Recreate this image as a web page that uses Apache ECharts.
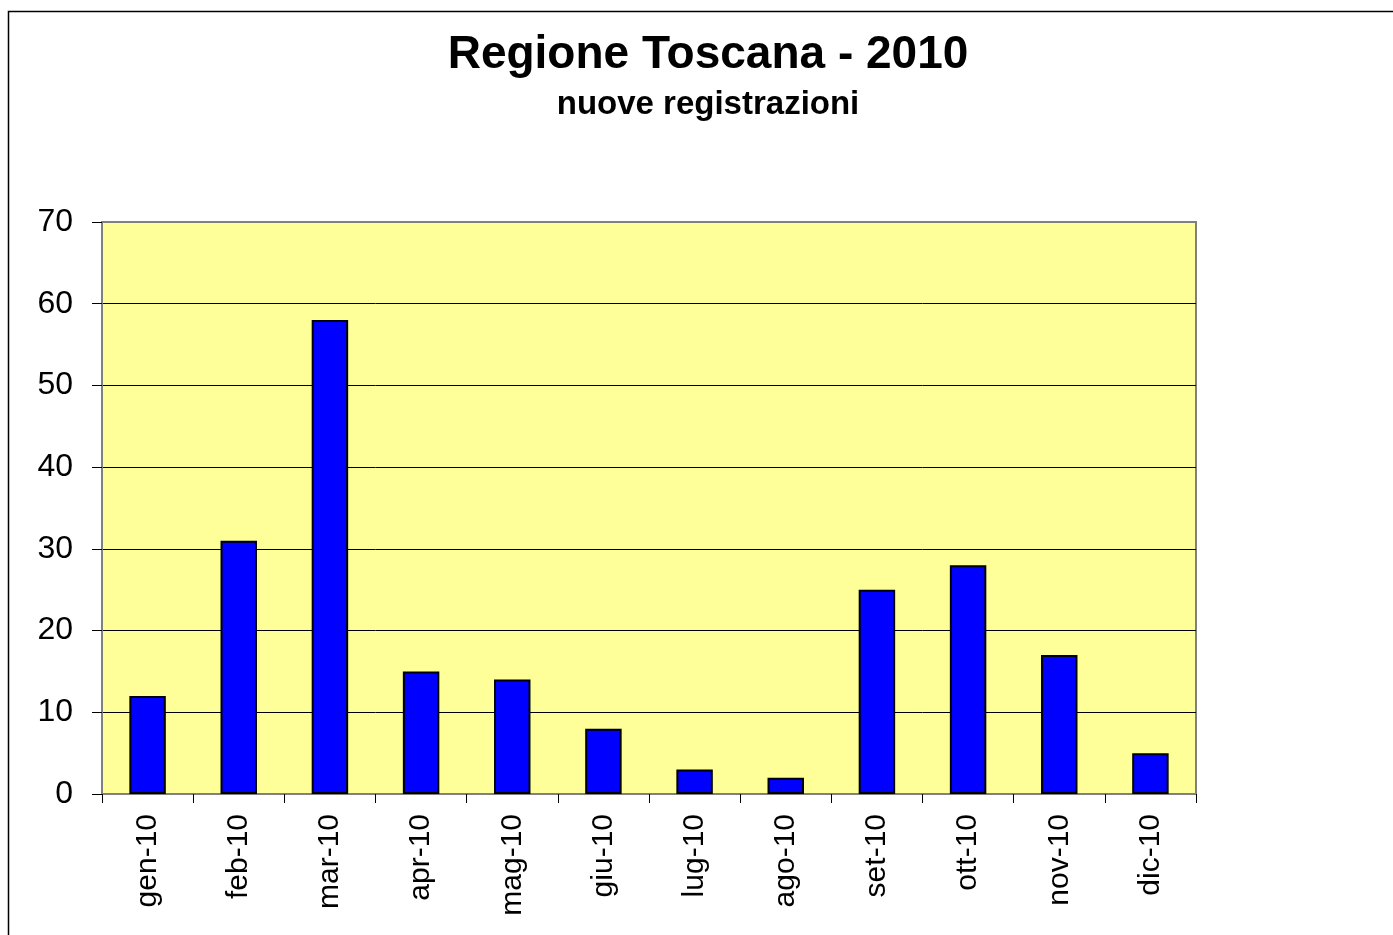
<!DOCTYPE html>
<html><head><meta charset="utf-8">
<script src="https://cdn.jsdelivr.net/npm/echarts@6/dist/echarts.min.js"></script>
<style>html,body{margin:0;padding:0;background:#fff}#c{width:1393px;height:935px}</style>
</head><body><div id="c"></div>
<script>
const categories = ['gen-10','feb-10','mar-10','apr-10','mag-10','giu-10','lug-10','ago-10','set-10','ott-10','nov-10','dic-10'];
const values = [12,31,58,15,14,8,3,2,25,28,17,5];
const titleText = 'Regione Toscana - 2010';
const subtitleText = 'nuove registrazioni';

const FF = 'Liberation Sans, Arial, sans-serif';
const chart = echarts.init(document.getElementById('c'), null, {renderer:'canvas'});
chart.setOption({
  animation:false,
  textStyle:{fontFamily:FF},
  title:[
    {text:titleText, left:708, textAlign:'center', top:32, padding:0,
     textStyle:{fontSize:46, fontWeight:'bold', color:'#000', fontFamily:FF}},
    {text:subtitleText, left:708, textAlign:'center', top:88, padding:0,
     textStyle:{fontSize:33, fontWeight:'bold', color:'#000', fontFamily:FF}}
  ],
  graphic:[{type:'rect', shape:{x:8.5,y:11.5,width:1500,height:1000}, style:{fill:null, stroke:'#000', lineWidth:1.5}, silent:true, z:-1}],
  grid:{left:102, top:222, width:1094, height:572, show:true, backgroundColor:'#FFFF99', borderColor:'#808080', borderWidth:2},
  xAxis:{
    type:'category', data:categories,
    axisLine:{lineStyle:{color:'#808080', width:2}},
    axisTick:{show:true, length:9, lineStyle:{color:'#000'}},
    axisLabel:{rotate:90, margin:20, fontSize:30, color:'#000'}
  },
  yAxis:{
    type:'value', min:0, max:70, interval:10,
    axisLine:{show:true, lineStyle:{color:'#808080', width:2}},
    axisTick:{show:true, length:10, lineStyle:{color:'#000'}},
    axisLabel:{margin:29, fontSize:32, color:'#000'},
    splitLine:{show:true, showMaxLine:false, showMinLine:false, lineStyle:{color:'#000', width:1}}
  },
  series:[{type:'bar', data:values, barWidth:'40%',
    itemStyle:{color:'#0000FF', borderColor:'#000', borderWidth:2}}]
});
</script></body></html>
